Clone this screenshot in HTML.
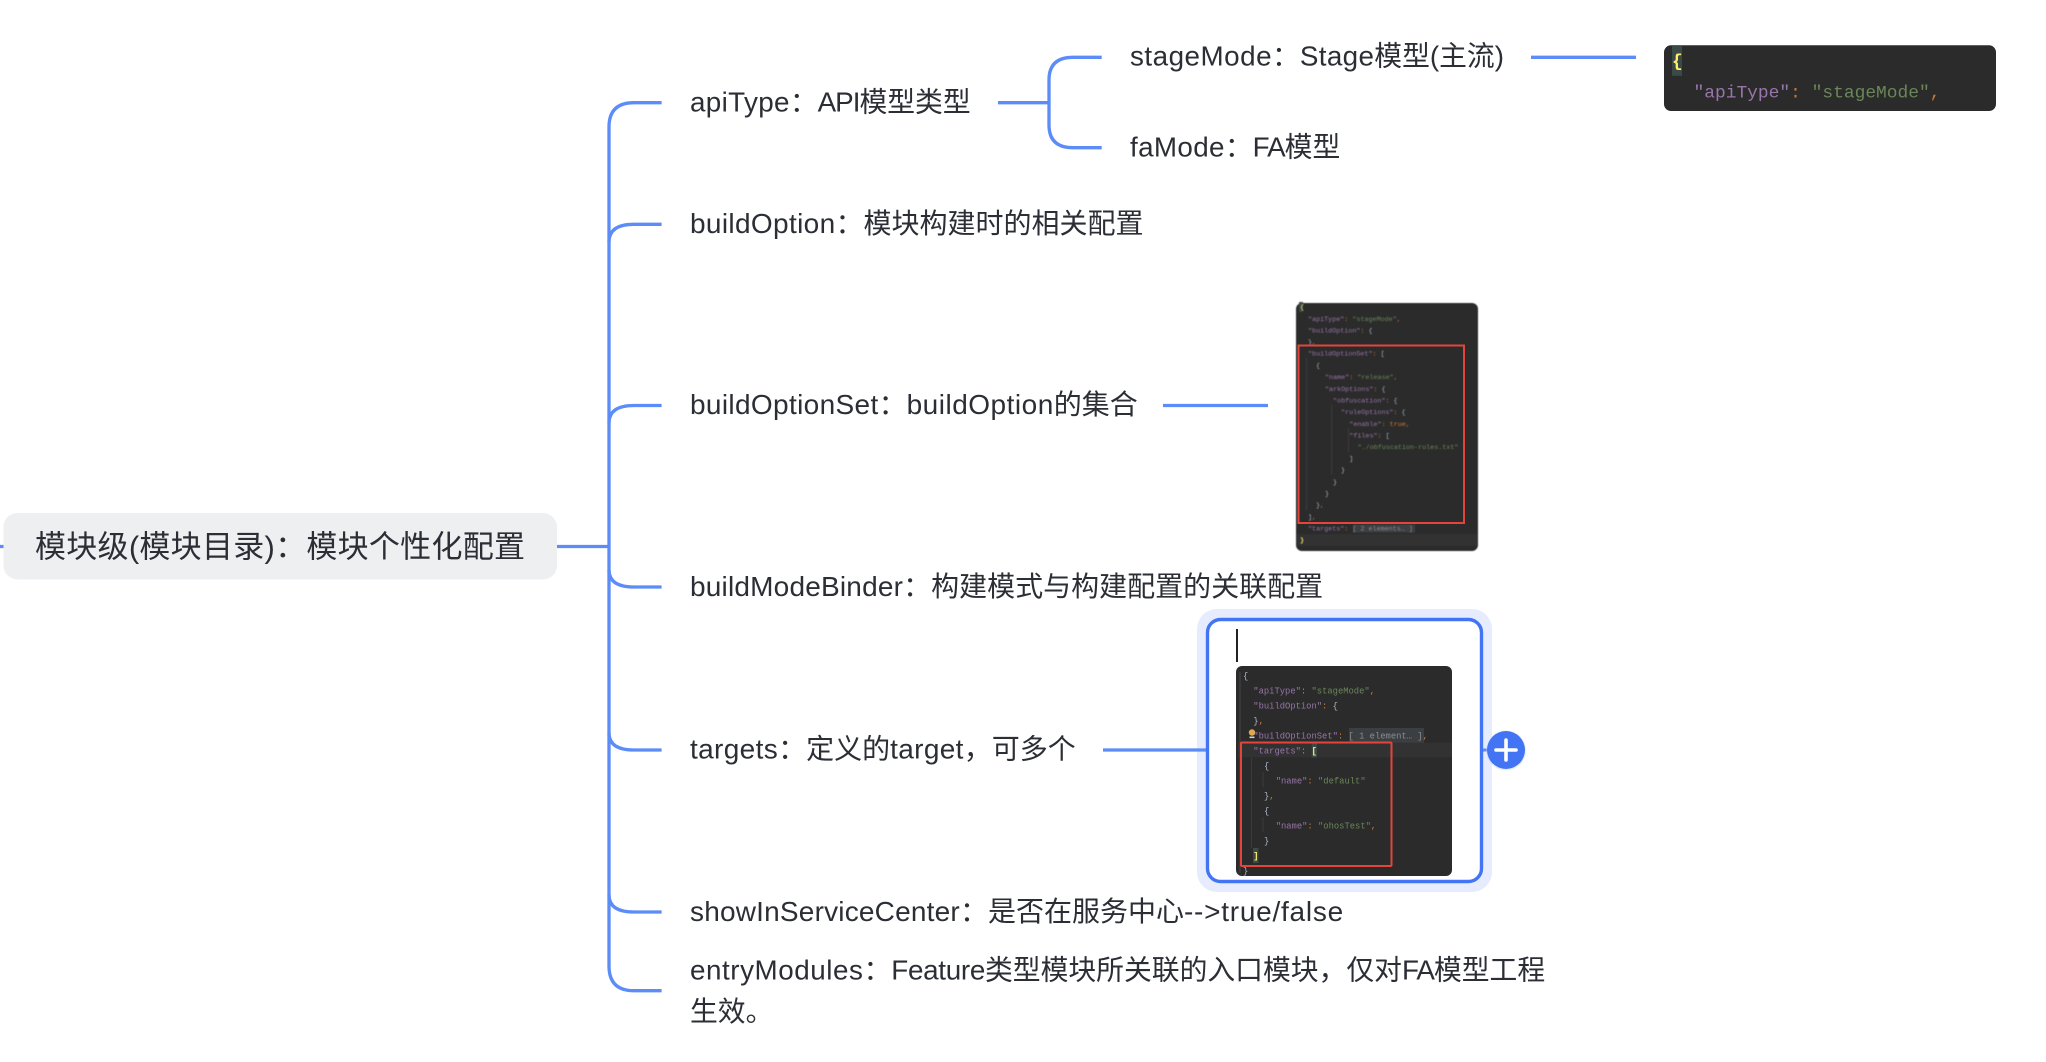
<!DOCTYPE html>
<html lang="zh">
<head>
<meta charset="utf-8">
<title>模块级配置</title>
<style>
html,body{margin:0;padding:0;background:#fff;width:2046px;height:1062px;overflow:hidden}
svg{display:block}
.t{font-family:"Liberation Sans","Noto Sans CJK SC",sans-serif;font-size:27.8px;fill:#2b2e35}
.a{letter-spacing:.35px}
.n{letter-spacing:-1px}
.b{font-size:28px}
.r{font-size:31px}
.c{font-family:"Noto Sans CJK TC",sans-serif}
.m{font-family:"Liberation Mono",monospace;fill:#a9b7c6;white-space:pre}
.s1{font-size:17.9px}.s2{font-size:6.72px}.s3{font-size:8.82px}
.k{fill:#9876aa}.g{fill:#6a8759}.o{fill:#cc7832}.y{fill:#ffef6e;font-weight:bold}.e{fill:#8a8f94}
.l{fill:none;stroke:#5b8cf8;stroke-width:3.3}
.blur{filter:blur(.35px)}
.blur2{filter:blur(.5px)}
</style>
</head>
<body>
<svg width="2046" height="1062" viewBox="0 0 2046 1062" xmlns="http://www.w3.org/2000/svg">
<rect width="2046" height="1062" fill="#fff"/>

<!-- connectors -->
<path class="l" d="M0 546.5H4"/>
<path class="l" d="M557 546.5H609"/>
<path class="l" d="M661.6 102.7H634Q609 102.7 609 127V966Q609 990.7 634 990.7H661.6"/>
<path class="l" d="M661.6 224.3H634Q609 224.3 609 242"/>
<path class="l" d="M661.6 405.5H634Q609 405.5 609 423"/>
<path class="l" d="M661.6 587H634Q609 587 609 570"/>
<path class="l" d="M661.6 750H634Q609 750 609 733"/>
<path class="l" d="M661.6 912H634Q609 912 609 895"/>
<path class="l" d="M998 102.7H1049"/>
<path class="l" d="M1101.7 57.3H1073Q1049 57.3 1049 80V125Q1049 147.7 1073 147.7H1101.7"/>
<path class="l" d="M1531 57.3H1636"/>
<path class="l" d="M1163 405.5H1268"/>

<!-- root -->
<rect x="3.5" y="513" width="553.5" height="66.5" rx="14" fill="#eeeff1"/>
<text class="t r" x="35" y="557.5" textLength="490" lengthAdjust="spacing">模块级(模块目录)<tspan class="c">：</tspan>模块个性化配置</text>

<!-- labels -->
<text class="t" x="690" y="111.4"><tspan class="a">apiType</tspan><tspan class="c">：</tspan><tspan class="n">API</tspan>模型类型</text>
<text class="t" x="1130" y="65.7"><tspan style="letter-spacing:.5px">stageMode</tspan><tspan class="c">：</tspan><tspan class="a">Stage</tspan>模型(主流)</text>
<text class="t" x="1130" y="156.5"><tspan class="a">faMode</tspan><tspan class="c">：</tspan><tspan class="n">FA</tspan>模型</text>
<text class="t b" x="690" y="233"><tspan class="a">buildOption</tspan><tspan class="c">：</tspan>模块构建时的相关配置</text>
<text class="t b" x="690" y="414.2"><tspan class="a">buildOptionSet</tspan><tspan class="c">：</tspan><tspan style="letter-spacing:.5px">buildOption</tspan>的集合</text>
<text class="t b" x="690" y="596"><tspan style="letter-spacing:.2px">buildModeBinder</tspan><tspan class="c">：</tspan>构建模式与构建配置的关联配置</text>
<text class="t b" x="690" y="758.7"><tspan class="a">targets</tspan><tspan class="c">：</tspan>定义的<tspan class="a">target</tspan>，可多个</text>
<text class="t b" x="690" y="921"><tspan style="letter-spacing:.2px">showInServiceCenter</tspan><tspan class="c">：</tspan>是否在服务中心<tspan style="letter-spacing:.75px">--&gt;true/false</tspan></text>
<text class="t" x="690" y="979.4"><tspan style="letter-spacing:.55px">entryModules</tspan><tspan class="c">：</tspan><tspan style="letter-spacing:-.3px">Feature</tspan>类型模块所关联的入口模块，仅对<tspan class="n">FA</tspan>模型工程</text>
<text class="t" x="690" y="1020.8">生效。</text>

<!-- code box 1 -->
<g class="blur">
<rect x="1664" y="45.3" width="332" height="65.7" rx="7" fill="#2b2b2b"/>
<rect x="1672" y="45.3" width="10" height="30.5" fill="#3b4a46"/>
<text class="m s1 y" x="1672" y="66.5">{</text>
<text class="m s1" x="1693.5" y="97.5"><tspan class="k">"apiType"</tspan><tspan class="o">:</tspan> <tspan class="g">"stageMode"</tspan><tspan class="o">,</tspan></text>
</g>

<!-- code box 2 -->
<g class="blur2">
<rect x="1296" y="303" width="182" height="248" rx="6" fill="#2b2b2b"/>
<rect x="1296" y="534" width="182" height="12" fill="#323232"/>
<rect x="1353" y="524.5" width="62" height="8" fill="#3c3f41"/>
<rect x="1299" y="302" width="4" height="10" fill="#3b4a46"/>
<path d="M1306.7 358V510M1331.7 405V475M1348.4 428V452" stroke="#404040" stroke-width=".8" fill="none"/>
<text class="m s2" x="1300" y="309" style="fill:#ffef6e">{</text>
<text class="m s2" x="1308" y="321"><tspan class="k">"apiType"</tspan><tspan class="o">:</tspan> <tspan class="g">"stageMode"</tspan><tspan class="o">,</tspan></text>
<text class="m s2" x="1308" y="332.5"><tspan class="k">"buildOption"</tspan><tspan class="o">:</tspan> {</text>
<text class="m s2" x="1308" y="344">}<tspan class="o">,</tspan></text>
<text class="m s2" x="1308" y="355.6"><tspan class="k">"buildOptionSet"</tspan><tspan class="o">:</tspan> [</text>
<text class="m s2" x="1316" y="367.5">{</text>
<text class="m s2" x="1325" y="379.2"><tspan class="k">"name"</tspan><tspan class="o">:</tspan> <tspan class="g">"release"</tspan><tspan class="o">,</tspan></text>
<text class="m s2" x="1325" y="390.9"><tspan class="k">"arkOptions"</tspan><tspan class="o">:</tspan> {</text>
<text class="m s2" x="1333" y="402.5"><tspan class="k">"obfuscation"</tspan><tspan class="o">:</tspan> {</text>
<text class="m s2" x="1341" y="414.2"><tspan class="k">"ruleOptions"</tspan><tspan class="o">:</tspan> {</text>
<text class="m s2" x="1349.3" y="425.9"><tspan class="k">"enable"</tspan><tspan class="o">:</tspan> <tspan class="o">true,</tspan></text>
<text class="m s2" x="1349.3" y="437.5"><tspan class="k">"files"</tspan><tspan class="o">:</tspan> [</text>
<text class="m s2" x="1357.6" y="449.2"><tspan class="g">"./obfuscation-rules.txt"</tspan></text>
<text class="m s2" x="1349.3" y="460.5">]</text>
<text class="m s2" x="1341" y="472.2">}</text>
<text class="m s2" x="1333" y="483.9">}</text>
<text class="m s2" x="1325" y="495.5">}</text>
<text class="m s2" x="1316" y="507.2">}<tspan class="o">,</tspan></text>
<text class="m s2" x="1308" y="518.9">]<tspan class="o">,</tspan></text>
<text class="m s2" x="1308" y="530.5"><tspan class="k">"targets"</tspan><tspan class="o">:</tspan> <tspan class="e">[ 2 elements… ]</tspan></text>
<text class="m s2 y" x="1300" y="542">}</text>
</g>
<rect x="1298.5" y="345.5" width="165.5" height="177.5" fill="none" stroke="#e5443a" stroke-width="2"/>

<!-- selected image node -->
<rect x="1197" y="609" width="295" height="283" rx="20" fill="#e6ecfd"/>
<path class="l" d="M1103 750H1206"/>
<path d="M1480 750H1490" stroke="#5b8cf8" stroke-width="3" fill="none"/>
<rect x="1207.5" y="619.5" width="274" height="262" rx="13" fill="#fff" stroke="#4274f4" stroke-width="3.4"/>
<rect x="1236" y="629" width="2" height="33" fill="#222"/>
<g class="blur">
<rect x="1236" y="666" width="216" height="210" rx="6" fill="#2b2b2b"/>
<rect x="1238" y="742.7" width="214" height="14.6" fill="#323232"/>
<rect x="1349" y="728" width="75" height="14.7" fill="#3c3f41"/>
<rect x="1311.7" y="743.5" width="5.3" height="14" fill="#3b4a46"/>
<rect x="1253" y="848" width="5.5" height="15" fill="#3b4a46"/>
<path d="M1251.5 758V848M1263 772V787M1263 817V832" stroke="#404040" stroke-width=".8" fill="none"/>
<path d="M1240 672V873" stroke="#454545" stroke-width="1" fill="none"/>
<text class="m s3" x="1243" y="678.7">{</text>
<text class="m s3" x="1253.3" y="693.7"><tspan class="k">"apiType"</tspan><tspan class="o">:</tspan> <tspan class="g">"stageMode"</tspan><tspan class="o">,</tspan></text>
<text class="m s3" x="1253.3" y="708.7"><tspan class="k">"buildOption"</tspan><tspan class="o">:</tspan> {</text>
<text class="m s3" x="1253.3" y="723.7">}<tspan class="o">,</tspan></text>
<text class="m s3" x="1253.3" y="738.7"><tspan class="k">"buildOptionSet"</tspan><tspan class="o">:</tspan> <tspan class="e">[ 1 element… ]</tspan><tspan class="o">,</tspan></text>
<text class="m s3" x="1253.3" y="753.7"><tspan class="k">"targets"</tspan><tspan class="o">:</tspan> <tspan class="y">[</tspan></text>
<text class="m s3" x="1264" y="768.7">{</text>
<text class="m s3" x="1275.7" y="783.7"><tspan class="k">"name"</tspan><tspan class="o">:</tspan> <tspan class="g">"default"</tspan></text>
<text class="m s3" x="1264" y="798.7">}<tspan class="o">,</tspan></text>
<text class="m s3" x="1264" y="813.7">{</text>
<text class="m s3" x="1275.7" y="828.7"><tspan class="k">"name"</tspan><tspan class="o">:</tspan> <tspan class="g">"ohosTest"</tspan><tspan class="o">,</tspan></text>
<text class="m s3" x="1264" y="843.7">}</text>
<text class="m s3 y" x="1253.3" y="858.7">]</text>
<text class="m s3" x="1243" y="873.7">}</text>
<circle cx="1252" cy="732.5" r="3.2" fill="#e0a94f"/>
<rect x="1249.5" y="736.5" width="5" height="1.6" fill="#cfcfcf"/>
</g>
<rect x="1241" y="742.5" width="150.5" height="123.5" rx="1" fill="none" stroke="#e5443a" stroke-width="2"/>

<!-- plus button -->
<circle cx="1506" cy="750.5" r="20" fill="#c9d6f8" opacity=".45"/>
<circle cx="1506" cy="750" r="19" fill="#4274f4"/>
<path d="M1496 750H1516M1506 740V760" stroke="#fff" stroke-width="3.6" stroke-linecap="round" fill="none"/>
</svg>
</body>
</html>
